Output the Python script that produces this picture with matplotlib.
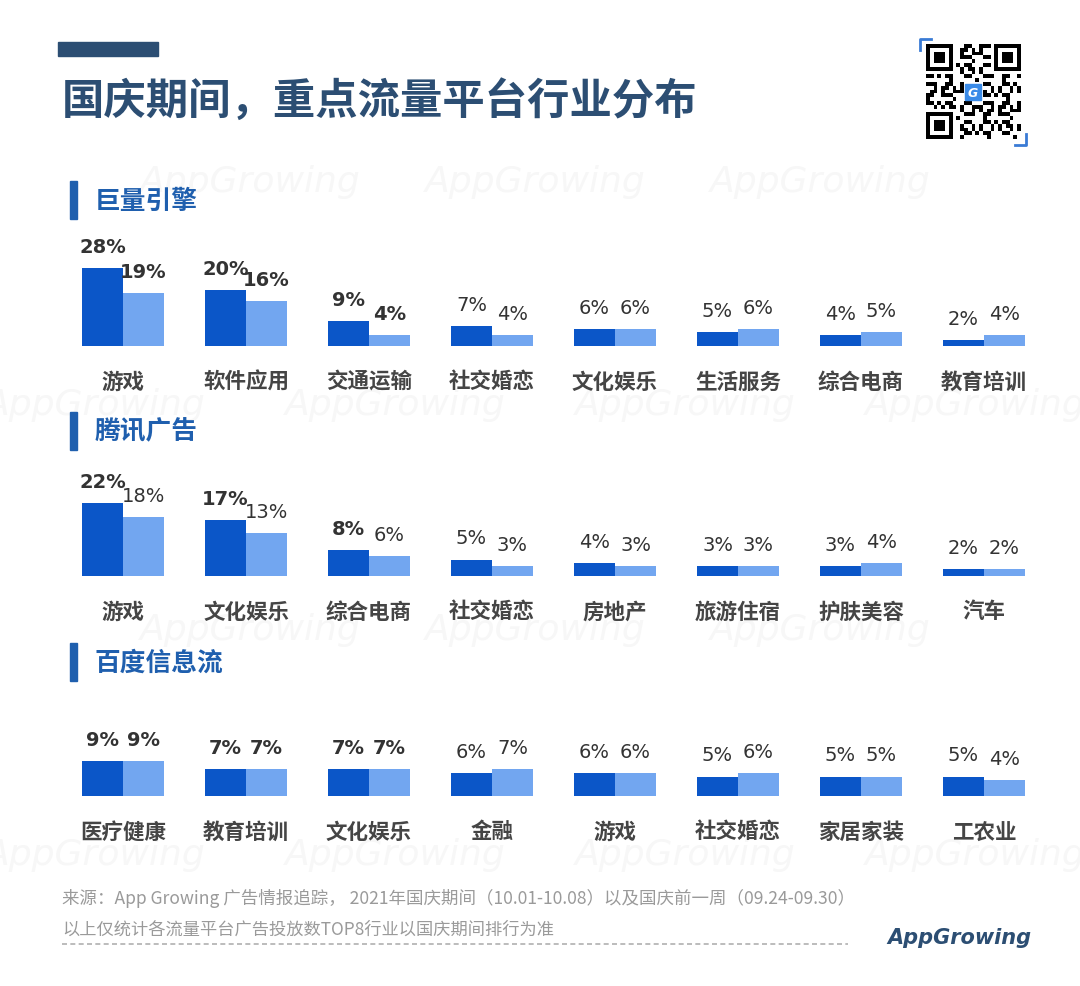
import numpy as np
import matplotlib
matplotlib.use("Agg")
import matplotlib.pyplot as plt
from matplotlib.patches import Rectangle

plt.rcParams['font.family'] = ['Noto Sans CJK SC', 'DejaVu Sans']

W, H = 1080, 987

# data: share of ad volume, 国庆期间 (now) vs 国庆前一周 (prev)
cats1 = ["游戏", "软件应用", "交通运输", "社交婚恋", "文化娱乐", "生活服务", "综合电商", "教育培训"]
now1 = [28, 20, 9, 7, 6, 5, 4, 2]
prev1 = [19, 16, 4, 4, 6, 6, 5, 4]

cats2 = ["游戏", "文化娱乐", "综合电商", "社交婚恋", "房地产", "旅游住宿", "护肤美容", "汽车"]
now2 = [22, 17, 8, 5, 4, 3, 3, 2]
prev2 = [18, 13, 6, 3, 3, 3, 4, 2]

cats3 = ["医疗健康", "教育培训", "文化娱乐", "金融", "游戏", "社交婚恋", "家居家装", "工农业"]
now3 = [9, 7, 7, 6, 6, 5, 5, 5]
prev3 = [9, 7, 7, 7, 6, 6, 5, 4]

titles = ["巨量引擎", "腾讯广告", "百度信息流"]

DARK = "#0b56c8"
LIGHT = "#72a6f0"
NAVY = "#2c4e73"
HEAD = "#1f5fae"


def rect(x0, y0, x1, y1):
    # pixel box (top-left origin) -> figure fraction
    return [x0 / W, 1 - y1 / H, (x1 - x0) / W, (y1 - y0) / H]


fig = plt.figure(figsize=(W / 100, H / 100), dpi=100)
fig.patch.set_facecolor("white")

# faint watermarks
bg = fig.add_axes([0, 0, 1, 1])
bg.set_xlim(0, W)
bg.set_ylim(H, 0)
bg.axis("off")
marks = [(250, 182), (535, 182), (820, 182),
         (95, 405), (395, 405), (685, 405), (975, 405),
         (250, 630), (535, 630), (820, 630),
         (95, 855), (395, 855), (685, 855), (975, 855)]
for mx, my in marks:
    bg.text(mx, my, "AppGrowing", fontsize=26, color="#f7f7f7", style="italic",
            ha="center", va="center", family="DejaVu Sans", zorder=0)

# header
bg.add_patch(Rectangle((58, 43), 100, 14, color=NAVY))
bg.text(62, 101, "国庆期间，重点流量平台行业分布", fontsize=30.5, fontweight="heavy",
        color=NAVY, ha="left", va="center")

# section headings
head_y = [201, 432, 663]
for t, hy in zip(titles, head_y):
    bg.add_patch(Rectangle((70, hy - 19), 7, 38, color=HEAD))
    bg.text(95, hy, t, fontsize=18.5, fontweight="bold", color=HEAD, ha="left", va="center")

# footer
bg.text(62, 899, "来源：App Growing 广告情报追踪， 2021年国庆期间（10.01-10.08）以及国庆前一周（09.24-09.30）",
        fontsize=12.6, color="#9a9a9a", ha="left", va="center")
bg.text(62, 930, "以上仅统计各流量平台广告投放数TOP8行业以国庆期间排行为准",
        fontsize=12.4, color="#9a9a9a", ha="left", va="center")
bg.plot([62, 848], [945, 945], color="#b0b0b0", lw=1.2, ls=(0, (3, 2)))
bg.text(959, 938, "AppGrowing", fontsize=15, color=NAVY, style="italic", fontweight="bold",
        ha="center", va="center", family="DejaVu Sans")

# panels
panels = [(cats1, now1, prev1, 347, 2.8, [0, 1, 2, 3, 4, 5]),
          (cats2, now2, prev2, 577, 3.3, [0, 2, 4]),
          (cats3, now3, prev3, 797, 3.9, [0, 1, 2, 3, 4, 5])]
bw = 41 / 123.0
for cats, now, prev, base, scale, bold in panels:
    ax = fig.add_axes(rect(61.5, base - 120, 1045.5, base))
    ax.set_xlim(-0.5, 7.5)
    ax.set_ylim(0, 120 / scale)
    ax.axis("off")
    x = np.arange(len(cats))
    ax.bar(x - bw / 2, now, width=bw, color=DARK, zorder=2)
    ax.bar(x + bw / 2, prev, width=bw, color=LIGHT, zorder=2)
    vals = []
    for i in range(len(cats)):
        vals.append((x[i] - bw / 2, now[i]))
        vals.append((x[i] + bw / 2, prev[i]))
    for k, (xx, v) in enumerate(vals):
        fw = "bold" if k in bold else "normal"
        ax.annotate(f"{v}%", (xx, v), xytext=(0, 16), textcoords="offset pixels",
                    ha="center", va="baseline", fontsize=14, fontweight=fw,
                    color="#333333", family="DejaVu Sans", annotation_clip=False)
    for i, c in enumerate(cats):
        ax.annotate(c, (x[i], 0), xytext=(0, -35), textcoords="offset pixels",
                    ha="center", va="center", fontsize=15.5, fontweight="bold",
                    color="#454545", annotation_clip=False)

# QR-style code box (decorative)
qr = fig.add_axes(rect(918, 38, 1028, 148))
qr.set_xlim(-2, 27)
qr.set_ylim(27, -2)
qr.axis("off")
n = 25
grid = np.zeros((n, n), dtype=bool)
for i in range(n):
    for j in range(n):
        grid[i, j] = ((i * 7 + j * 11 + (i * j) % 5) % 5) < 2 or (i + 2 * j) % 7 == 0
def finder(r, c):
    grid[r:r + 7, c:c + 7] = False
    for a in range(7):
        for b in range(7):
            if a in (0, 6) or b in (0, 6) or (2 <= a <= 4 and 2 <= b <= 4):
                grid[r + a, c + b] = True
for r0, c0 in [(0, 0), (0, 18), (18, 0)]:
    finder(r0, c0)
grid[7, :8] = False
grid[:8, 7] = False
grid[7, 17:] = False
grid[:8, 17] = False
grid[17, :8] = False
grid[17:, 7] = False
grid[10:15, 10:15] = False
qr.imshow(~grid, cmap="gray", extent=(0, n, n, 0), interpolation="nearest", vmin=0, vmax=1)
qr.add_patch(Rectangle((10.3, 10.3), 4.4, 4.4, color="#3a8be8"))
qr.text(12.5, 12.6, "G", color="white", fontsize=9, fontweight="bold", style="italic",
        ha="center", va="center", family="DejaVu Sans")
qr.plot([-1.5, -1.5, 1.5], [1.5, -1.5, -1.5], color="#3a7bd5", lw=2)
qr.plot([23.5, 26.5, 26.5], [26.5, 26.5, 23.5], color="#3a7bd5", lw=2)

fig.savefig("out.png", dpi=100, facecolor="white")
